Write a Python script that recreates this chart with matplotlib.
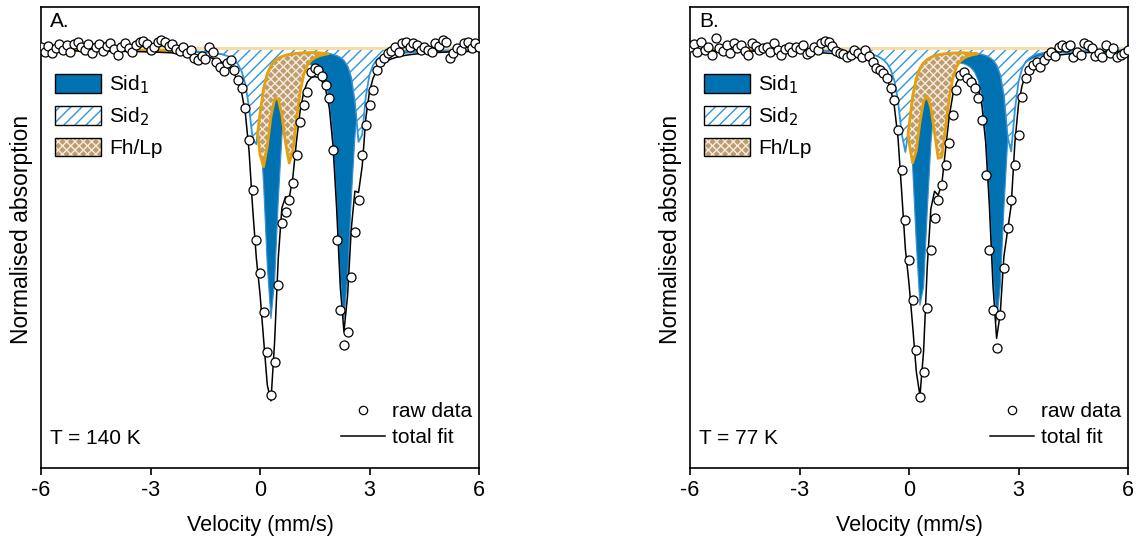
import numpy as np
import matplotlib
matplotlib.use("Agg")
import matplotlib.pyplot as plt
from matplotlib.patches import Patch
from matplotlib.lines import Line2D
from matplotlib.legend_handler import HandlerTuple

plt.rcParams['font.family'] = ['Liberation Sans', 'DejaVu Sans']
plt.rcParams['font.size'] = 15
plt.rcParams['hatch.linewidth'] = 1.0

# channel velocities (mm/s)
velocity = [
    -6.0, -5.9, -5.8, -5.7, -5.6, -5.5, -5.4, -5.3, -5.2, -5.1,
    -5.0, -4.9, -4.8, -4.7, -4.6, -4.5, -4.4, -4.3, -4.2, -4.1,
    -4.0, -3.9, -3.8, -3.7, -3.6, -3.5, -3.4, -3.3, -3.2, -3.1,
    -3.0, -2.9, -2.8, -2.7, -2.6, -2.5, -2.4, -2.3, -2.2, -2.1,
    -2.0, -1.9, -1.8, -1.7, -1.6, -1.5, -1.4, -1.3, -1.2, -1.1,
    -1.0, -0.9, -0.8, -0.7, -0.6, -0.5, -0.4, -0.3, -0.2, -0.1,
    0.0, 0.1, 0.2, 0.3, 0.4, 0.5, 0.6, 0.7, 0.8, 0.9,
    1.0, 1.1, 1.2, 1.3, 1.4, 1.5, 1.6, 1.7, 1.8, 1.9,
    2.0, 2.1, 2.2, 2.3, 2.4, 2.5, 2.6, 2.7, 2.8, 2.9,
    3.0, 3.1, 3.2, 3.3, 3.4, 3.5, 3.6, 3.7, 3.8, 3.9,
    4.0, 4.1, 4.2, 4.3, 4.4, 4.5, 4.6, 4.7, 4.8, 4.9,
    5.0, 5.1, 5.2, 5.3, 5.4, 5.5, 5.6, 5.7, 5.8, 5.9,
    6.0,
]

# normalised transmission (%), T = 140 K
raw_140K = [
    100.15, 99.90, 100.20, 99.85, 100.10, 100.30, 100.00, 100.25, 99.90, 100.30,
    100.40, 100.15, 100.00, 100.30, 99.85, 100.15, 100.30, 99.95, 100.20, 100.35,
    100.05, 99.75, 100.15, 100.35, 100.10, 99.90, 100.25, 100.40, 100.45, 100.30,
    100.00, 100.15, 100.40, 100.50, 100.40, 100.20, 100.30, 100.05, 99.95, 100.15,
    99.85, 100.00, 99.60, 99.50, 99.70, 99.55, 100.15, 99.90, 99.40, 99.15,
    98.95, 99.35, 99.50, 99.00, 98.50, 98.10, 97.10, 95.50, 93.00, 90.50,
    88.85, 86.90, 84.90, 82.75, 84.40, 88.25, 91.35, 91.90, 92.50, 93.35,
    94.75, 96.40, 97.25, 97.90, 98.90, 99.10, 99.00, 98.70, 98.25, 97.60,
    95.00, 90.50, 87.00, 85.25, 85.90, 88.65, 90.90, 92.50, 94.75, 96.25,
    97.25, 98.00, 99.00, 99.40, 99.60, 99.85, 99.95, 100.15, 99.90, 100.35,
    100.40, 100.15, 100.35, 100.25, 100.00, 100.15, 100.00, 99.90, 100.35, 100.20,
    100.50, 100.40, 99.60, 99.85, 100.10, 100.00, 100.35, 100.40, 100.10, 100.35,
    100.15,
]

# normalised transmission (%), T = 77 K
raw_77K = [
    100.15, 100.30, 99.90, 100.40, 100.00, 100.15, 99.75, 100.60, 100.10, 99.95,
    100.25, 99.85, 100.35, 100.10, 100.25, 99.95, 99.75, 100.35, 100.20, 100.00,
    100.10, 100.15, 99.90, 100.35, 100.00, 99.75, 100.05, 100.15, 99.90, 100.15,
    100.05, 100.25, 99.80, 99.90, 100.15, 100.00, 100.35, 100.45, 100.40, 100.20,
    99.95, 99.85, 99.80, 99.65, 99.75, 100.00, 99.85, 99.65, 100.00, 99.70,
    99.40, 99.10, 99.00, 98.85, 98.60, 98.10, 97.50, 96.00, 94.00, 91.50,
    89.50, 87.50, 85.00, 82.65, 83.90, 87.10, 90.00, 91.60, 92.50, 93.25,
    94.25, 95.35, 96.75, 98.00, 98.75, 98.90, 98.60, 98.40, 98.10, 97.60,
    96.50, 93.75, 90.00, 87.00, 85.10, 86.75, 89.10, 91.10, 92.50, 94.25,
    95.75, 97.65, 98.60, 99.00, 99.25, 99.40, 99.15, 99.50, 99.75, 99.90,
    99.70, 100.15, 100.25, 100.15, 100.25, 99.65, 99.90, 99.75, 100.35, 100.25,
    100.10, 99.70, 99.85, 99.65, 100.25, 99.85, 100.10, 99.65, 99.75, 99.85,
    100.00,
]

# fitted sub-spectra, one entry per line: (centre mm/s, HWHM mm/s, depth %)
sid1_140K = [(0.31, 0.21, 13.35), (2.30, 0.22, 13.35)]
sid2_140K = [(-0.14, 0.19, 4.90), (2.74, 0.15, 4.90)]
fhlp_140K = [(0.08, 0.22, 5.60), (0.82, 0.22, 5.40)]

sid1_77K = [(0.33, 0.21, 12.90), (2.41, 0.22, 13.50)]
sid2_77K = [(-0.11, 0.19, 5.10), (2.77, 0.15, 5.25)]
fhlp_77K = [(0.11, 0.22, 5.40), (0.85, 0.22, 5.35)]

# Lorentzian fraction of the pseudo-Voigt line shape
shape_sid1 = 0.6
shape_sid2 = 1.0
shape_fhlp = 0.6

c_sid1 = '#0072b2'
c_sid2 = '#2f95dc'
c_fh_face = '#bc9c70'
c_fh_hatch = '#f4ebdc'
c_fh_line = '#e6a00a'


def sub_spectrum(v, lines, eta):
    out = np.zeros_like(v)
    for centre, hw, depth in lines:
        x = (v - centre) / hw
        out += depth * (eta / (1 + x ** 2) + (1 - eta) * np.exp(-np.log(2) * x ** 2))
    return 100 - out


def draw_panel(ax, raw, sid1, sid2, fhlp, letter, temp):
    v = np.array(velocity)
    s1 = sub_spectrum(v, sid1, shape_sid1)
    s2 = sub_spectrum(v, sid2, shape_sid2)
    fh = sub_spectrum(v, fhlp, shape_fhlp)
    total = s1 + s2 + fh - 200

    ax.axhline(100.12, color='#f6dca8', lw=2.2, zorder=1)
    # Sid2: hatched, from baseline
    ax.fill_between(v, 100, s2, facecolor='white', edgecolor=c_sid2, hatch='///', lw=0, zorder=2)
    ax.plot(v, s2, color=c_sid2, lw=1.3, zorder=2.5)
    # Sid1: solid, where deeper than Sid2
    ax.fill_between(v, s2, s1, where=s1 < s2, interpolate=True, facecolor=c_sid1,
                    edgecolor='#3d8fd0', lw=0.8, zorder=3)
    # Fh/Lp: cross-hatched, where deeper than Sid2
    ax.fill_between(v, s2, fh, where=fh < s2, interpolate=True, facecolor=c_fh_face,
                    edgecolor=c_fh_hatch, hatch='xxxx', lw=0, zorder=4)
    ax.fill_between(v, s2, fh, where=fh < s2, interpolate=True, facecolor='none',
                    edgecolor=c_fh_line, lw=2, zorder=4.5)

    ax.plot(v, total, color='black', lw=1.1, zorder=5)
    ax.plot(v, raw, 'o', ms=6.5, mfc='white', mec='black', mew=0.9, zorder=6)

    ax.set_xlim(-6, 6)
    ax.set_ylim(79.1, 102.15)
    ax.set_xticks([-6, -3, 0, 3, 6])
    ax.set_xticklabels(['-6', '-3', '0', '3', '6'])
    ax.set_yticks([])
    ax.tick_params(axis='x', direction='out', length=5, width=1.2, pad=4, labelsize=15.5)
    for sp in ax.spines.values():
        sp.set_linewidth(1.2)
    ax.set_xlabel('Velocity (mm/s)', fontsize=15.5, labelpad=10)
    ax.set_ylabel('Normalised absorption', fontsize=16.5)
    ax.yaxis.set_label_coords(-0.018, 0.518)

    ax.text(0.02, 0.99, letter, transform=ax.transAxes, va='top', ha='left', fontsize=15)
    ax.text(0.02, 0.065, temp, transform=ax.transAxes, va='center', ha='left', fontsize=15)

    box = Patch(facecolor='none', edgecolor='black', lw=1)
    h1 = Patch(facecolor=c_sid1, edgecolor='black', lw=1)
    h2 = (Patch(facecolor='white', edgecolor=c_sid2, hatch='///', lw=0), box)
    h3 = (Patch(facecolor=c_fh_face, edgecolor=c_fh_hatch, hatch='xxxx', lw=0), box)
    leg1 = ax.legend([h1, h2, h3], ['Sid$_1$', 'Sid$_2$', 'Fh/Lp'],
                     handler_map={tuple: HandlerTuple(ndivide=1, pad=0)},
                     loc='upper left', bbox_to_anchor=(0.032, 0.855), frameon=False,
                     borderpad=0, borderaxespad=0, handlelength=2.2, handleheight=1.0,
                     labelspacing=0.45, handletextpad=0.4, fontsize=15)
    ax.add_artist(leg1)

    m = Line2D([], [], ls='none', marker='o', ms=6, mfc='white', mec='black', mew=0.9)
    ln = Line2D([], [], color='black', lw=1.1)
    ax.legend([m, ln], ['raw data', 'total fit'], loc='lower right',
              bbox_to_anchor=(0.985, 0.045), frameon=False, borderpad=0, borderaxespad=0,
              handlelength=2.1, handletextpad=0.35, labelspacing=0.35, fontsize=15)


fig = plt.figure(figsize=(11.4, 5.41), dpi=100)
ax1 = fig.add_axes([41 / 1140, 73 / 541, 438 / 1140, 461 / 541])
ax2 = fig.add_axes([690 / 1140, 73 / 541, 438 / 1140, 461 / 541])

draw_panel(ax1, raw_140K, sid1_140K, sid2_140K, fhlp_140K, 'A.', 'T = 140 K')
draw_panel(ax2, raw_77K, sid1_77K, sid2_77K, fhlp_77K, 'B.', 'T = 77 K')

fig.savefig('out.png', dpi=100)
